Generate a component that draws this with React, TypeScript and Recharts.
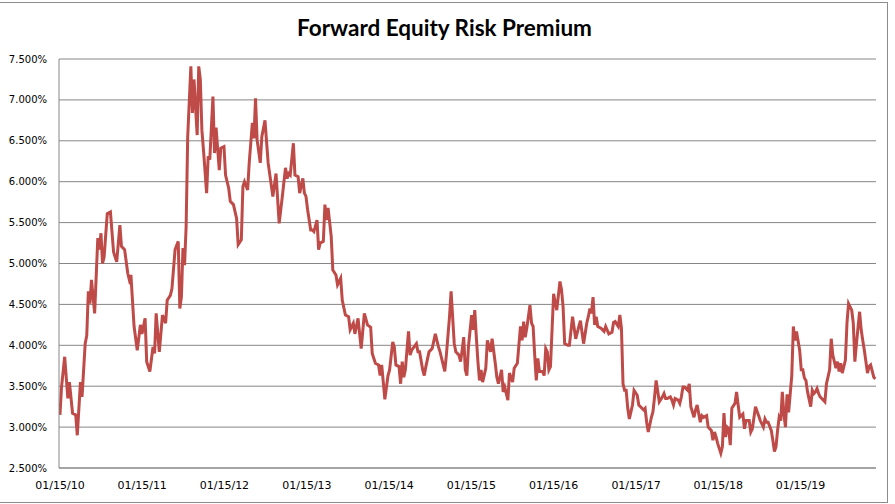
import React from "react";
import { LineChart, Line, XAxis, YAxis, CartesianGrid } from "recharts";

// [week number since 01/15/10, forward ERP in %]
type Pt = [number, number];

const erp2010: Pt[] = [
  [0, 3.15], [1, 3.49], [3, 3.86], [5, 3.35], [6, 3.55], [8, 3.17], [10, 3.15], [11, 2.9],
  [13, 3.55], [14, 3.37], [16, 4.02], [17, 4.12], [18, 4.66], [19, 4.51], [20, 4.8], [22, 4.39],
  [24, 5.31], [25, 5.17], [26, 5.37], [27, 5.0], [28, 5.08], [30, 5.61], [32, 5.63], [34, 5.14],
  [36, 5.02], [38, 5.47], [39, 5.21], [41, 5.17], [43, 4.88], [44, 4.8], [45, 4.86], [47, 4.23],
  [49, 3.94], [51, 4.25],
];

const erp2011: Pt[] = [
  [52, 4.14], [54, 4.33], [55, 3.8], [57, 3.68], [59, 3.98], [60, 3.9], [61, 4.39], [63, 3.92],
  [65, 4.37], [67, 4.27], [68, 4.55], [70, 4.61], [71, 4.69], [73, 5.17], [75, 5.27], [76, 4.45],
  [77, 4.59], [78, 5.19], [79, 4.98], [80, 5.45], [81, 6.55], [83, 7.41], [84, 6.84], [85, 7.25],
  [87, 6.57], [88, 7.41], [89, 7.25], [90, 6.63], [91, 6.39], [93, 5.86], [94, 6.31], [95, 6.27],
  [97, 7.04], [98, 6.35], [99, 6.66], [101, 6.14], [102, 6.41], [104, 6.43],
];

const erp2012: Pt[] = [
  [105, 6.08], [107, 5.92], [108, 5.76], [110, 5.72], [112, 5.55], [113, 5.23], [115, 5.29],
  [116, 5.94], [117, 6.0], [119, 5.9], [120, 6.23], [122, 6.72], [123, 6.53], [124, 7.02],
  [125, 6.51], [127, 6.23], [128, 6.55], [130, 6.75], [132, 6.23], [135, 5.82], [137, 6.1],
  [139, 5.49], [141, 5.82], [143, 6.17], [144, 6.04], [145, 6.1], [146, 6.08], [148, 6.47],
  [149, 6.08], [151, 6.06], [152, 5.86], [154, 6.04], [155, 5.86], [156, 5.82],
];

const erp2013: Pt[] = [
  [157, 5.66], [159, 5.41], [160, 5.41], [161, 5.39], [163, 5.53], [164, 5.17], [165, 5.25],
  [167, 5.27], [168, 5.72], [169, 5.53], [170, 5.68], [172, 5.33], [173, 4.92], [175, 4.86],
  [176, 4.74], [178, 4.82], [179, 4.55], [181, 4.37], [183, 4.35], [184, 4.19], [186, 4.27],
  [187, 4.14], [189, 4.33], [191, 3.96], [193, 4.39], [195, 4.25], [197, 4.22], [198, 3.9],
  [200, 3.78], [202, 3.76], [203, 3.63], [204, 3.76], [206, 3.34], [208, 3.63],
];

const erp2014: Pt[] = [
  [209, 3.7], [211, 4.04], [212, 3.98], [213, 3.76], [215, 3.74], [216, 3.53], [217, 3.8],
  [218, 3.61], [219, 3.7], [221, 4.17], [222, 3.88], [223, 3.94], [226, 4.02], [227, 3.92],
  [228, 3.92], [230, 3.7], [231, 3.63], [232, 3.74], [234, 3.92], [236, 3.96], [238, 4.14],
  [240, 3.98], [241, 3.92], [243, 3.76], [244, 3.68], [245, 3.88], [247, 4.35], [248, 4.66],
  [250, 4.02], [251, 3.92], [253, 3.88], [254, 3.8], [255, 3.94], [256, 4.1], [257, 3.7],
  [258, 3.63], [259, 3.98],
];

const erp2015: Pt[] = [
  [261, 4.37], [262, 4.19], [263, 4.43], [264, 4.1], [265, 3.8], [266, 3.57], [267, 3.7],
  [268, 3.55], [270, 3.72], [271, 4.06], [273, 3.92], [274, 4.08], [276, 3.78], [277, 3.61],
  [278, 3.53], [280, 3.7], [281, 3.43], [282, 3.49], [284, 3.33], [285, 3.66], [287, 3.55],
  [288, 3.72], [290, 3.78], [292, 4.23], [293, 4.06], [294, 4.29], [295, 4.1], [296, 4.21],
  [298, 4.49], [299, 4.27], [300, 4.23], [301, 3.88], [302, 3.57], [303, 3.84], [304, 3.68],
  [306, 3.68], [307, 3.63], [308, 3.96], [309, 3.92], [310, 3.7], [311, 3.74],
];

const erp2016: Pt[] = [
  [313, 4.63], [314, 4.53], [315, 4.43], [317, 4.78], [318, 4.68], [319, 4.47], [320, 4.02],
  [322, 4.0], [323, 4.0], [325, 4.35], [327, 4.08], [329, 4.23], [330, 4.3], [332, 4.02],
  [334, 4.27], [335, 4.35], [336, 4.45], [337, 4.39], [338, 4.59], [339, 4.25], [340, 4.35],
  [341, 4.23], [343, 4.21], [345, 4.17], [346, 4.23], [348, 4.14], [350, 4.16], [351, 4.28],
  [352, 4.29], [354, 4.23], [355, 4.37], [356, 4.21], [357, 3.53], [358, 3.45], [359, 3.45],
  [360, 3.23], [361, 3.1], [363, 3.27], [364, 3.45],
];

const erp2017: Pt[] = [
  [366, 3.39], [367, 3.27], [369, 3.23], [370, 3.21], [371, 3.23], [372, 3.06], [373, 2.94],
  [375, 3.12], [376, 3.19], [377, 3.37], [378, 3.57], [380, 3.31], [382, 3.37], [383, 3.41],
  [384, 3.35], [385, 3.35], [387, 3.37], [388, 3.33], [389, 3.27], [390, 3.35], [392, 3.33],
  [393, 3.29], [394, 3.37], [395, 3.49], [396, 3.49], [397, 3.47], [398, 3.45], [399, 3.53],
  [400, 3.25], [402, 3.12], [403, 3.21], [404, 3.27], [406, 3.06], [407, 3.14], [408, 3.12],
  [410, 3.14], [411, 3.0], [413, 2.96], [414, 2.84], [415, 2.94], [416, 2.88],
];

const erp2018: Pt[] = [
  [417, 2.8], [419, 2.68], [420, 2.76], [421, 3.17], [422, 2.88], [423, 3.0], [424, 2.98],
  [425, 2.78], [426, 3.23], [428, 3.29], [429, 3.43], [430, 3.27], [431, 3.12], [433, 3.16],
  [434, 2.98], [435, 3.08], [437, 3.08], [438, 2.94], [439, 2.98], [441, 3.25], [443, 3.14],
  [444, 3.08], [446, 3.0], [447, 3.1], [448, 3.06], [449, 3.06], [451, 2.96], [452, 2.84],
  [453, 2.7], [454, 2.76], [455, 2.96], [456, 3.12], [457, 3.08], [458, 3.43], [459, 3.16],
  [460, 3.0], [461, 3.4], [462, 3.18], [464, 3.63], [465, 4.23], [466, 4.06], [467, 4.17],
  [469, 3.94],
];

const erp2019: Pt[] = [
  [470, 3.7], [471, 3.7], [472, 3.6], [473, 3.57], [474, 3.43], [476, 3.25], [477, 3.45],
  [478, 3.41], [479, 3.43], [480, 3.47], [481, 3.41], [482, 3.37], [483, 3.35], [485, 3.31],
  [486, 3.53], [488, 3.7], [489, 4.08], [490, 3.88], [492, 3.72], [493, 3.8], [494, 3.68],
  [495, 3.78], [496, 3.66], [498, 3.82], [499, 4.27], [500, 4.51], [502, 4.43], [503, 4.27],
  [504, 3.8], [505, 4.02], [507, 4.41], [508, 4.19], [509, 4.06], [510, 3.94], [512, 3.66],
  [513, 3.74], [514, 3.76], [516, 3.61], [517, 3.59],
];

const tickYears = [2010, 2011, 2012, 2013, 2014, 2015, 2016, 2017, 2018, 2019];
const yTicks = [2.5, 3, 3.5, 4, 4.5, 5, 5.5, 6, 6.5, 7, 7.5];

const WEEK_MS = 7 * 86400000;
const start = Date.UTC(2010, 0, 15);

const data = [
  ...erp2010, ...erp2011, ...erp2012, ...erp2013, ...erp2014,
  ...erp2015, ...erp2016, ...erp2017, ...erp2018, ...erp2019,
].map(([week, erp]) => ({ week, erp }));

const xTicks = tickYears.map((y) => (Date.UTC(y, 0, 15) - start) / WEEK_MS);
const xLabel = (v: number) => {
  const i = xTicks.findIndex((t) => Math.abs(t - v) < 0.01);
  return i < 0 ? "" : "01/15/" + String(tickYears[i]).slice(2);
};

const gridColor = "#868686";
const font = "'DejaVu Sans', sans-serif";

export default function App() {
  return (
    <div style={{ position: "absolute", left: 0, top: 0, width: 895, height: 504, background: "#fff", overflow: "hidden" }}>
      <div
        style={{
          position: "absolute", left: -1, top: 2, width: 887, height: 499,
          border: "1px solid #8c8c8c",
        }}
      />
      <div
        style={{
          position: "absolute", left: 0, top: 17, width: 889, textAlign: "center",
          fontFamily: "Lato, sans-serif", fontWeight: 700, fontSize: 22.5, lineHeight: "22px", color: "#000",
        }}
      >
        Forward Equity Risk Premium
      </div>
      <LineChart width={895} height={504} data={data} margin={{ top: 59, right: 19, bottom: 0, left: 0 }}>
        <CartesianGrid vertical={false} stroke={gridColor} strokeWidth={1} />
        <XAxis
          dataKey="week"
          type="number"
          domain={[-0.6, 517.4]}
          allowDataOverflow
          ticks={xTicks}
          interval={0}
          tickFormatter={xLabel}
          height={36}
          tickSize={0}
          tickMargin={13}
          axisLine={{ stroke: gridColor }}
          tick={{ fontFamily: font, fontSize: 11, fill: "#000" }}
        />
        <YAxis
          type="number"
          domain={[2.5, 7.5]}
          ticks={yTicks}
          interval={0}
          width={59}
          tickSize={0}
          tickMargin={12}
          axisLine={{ stroke: gridColor }}
          tickFormatter={(v: number) => v.toFixed(3) + "%"}
          tick={{ fontFamily: font, fontSize: 10, fill: "#000" }}
        />
        <Line
          type="linear"
          dataKey="erp"
          stroke="#BE4B48"
          strokeWidth={3}
          dot={false}
          activeDot={false}
          isAnimationActive={false}
        />
      </LineChart>
    </div>
  );
}
